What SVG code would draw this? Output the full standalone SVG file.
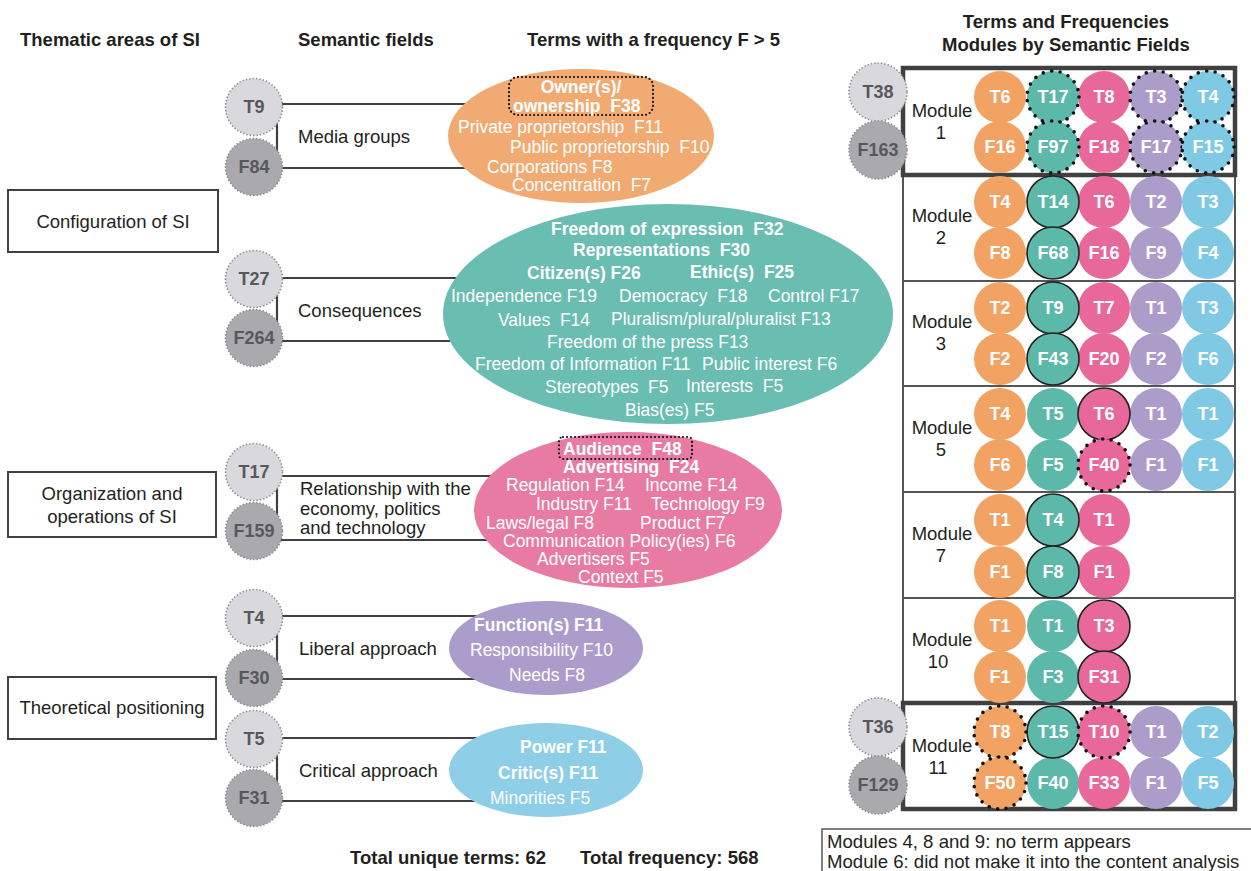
<svg xmlns="http://www.w3.org/2000/svg" width="1251" height="871" viewBox="0 0 1251 871">
<style>
text{font-family:"Liberation Sans",Arial,sans-serif;}
.hdr{font-size:18.5px;font-weight:bold;fill:#231f20;}
.lbl{font-size:18.5px;fill:#231f20;}
.box{fill:#fff;stroke:#404040;stroke-width:2;}
.con{fill:none;stroke:#404040;stroke-width:2.2;}
.ct{fill:#d9d9dd;stroke:#8c8c90;stroke-width:1.6;stroke-dasharray:1.4 2;}
.cf{fill:#a9a9ae;stroke:#8c8c90;stroke-width:1.6;stroke-dasharray:1.4 2;}
.ctt{font-size:18px;font-weight:bold;fill:#58585c;text-anchor:middle;}
.et{font-size:17.5px;fill:#fff;}
.eb{font-size:17.5px;fill:#fff;font-weight:bold;}
.o{fill:#f2a263;}
.g{fill:#5cb8a8;}
.p{fill:#e8689a;}
.v{fill:#ab9cca;}
.b{fill:#7fc9e5;}
.sol{stroke:#222;stroke-width:1.6;}
.dot{stroke:#111;stroke-width:3.6;stroke-dasharray:0 8.6;stroke-linecap:round;}
.gt{font-size:18px;font-weight:bold;fill:#fff;text-anchor:middle;}
.mod{fill:none;stroke:#555;stroke-width:2;}
.modb{fill:none;stroke:#404040;stroke-width:4.5;}
.ml{font-size:18.5px;fill:#231f20;text-anchor:middle;}
.fn{font-size:18.6px;fill:#231f20;}
</style>

<g id="headers">
<text class="hdr" x="20" y="46">Thematic areas of SI</text>
<text class="hdr" x="298" y="46">Semantic fields</text>
<text class="hdr" x="527" y="46">Terms with a frequency F &gt; 5</text>
<text class="hdr" x="1066" y="28" text-anchor="middle">Terms and Frequencies</text>
<text class="hdr" x="1066" y="51" text-anchor="middle">Modules by Semantic Fields</text>
</g>

<g id="connectors">
<path class="con" d="M283,104 H277 V168 H283 M283,104 H500 M283,168 H500"/>
<path class="con" d="M283,278 H277 V341 H283 M283,278 H500 M283,341 H500"/>
<path class="con" d="M283,476 H277 V540 H283 M283,476 H520 M283,540 H520"/>
<path class="con" d="M283,616 H277 V679 H283 M283,616 H500 M283,679 H500"/>
<path class="con" d="M283,738 H277 V801 H283 M283,738 H500 M283,801 H500"/>
</g>

<g id="area-configuration">
<rect class="box" x="8" y="190" width="210" height="62"/>
<text class="lbl" x="113" y="228" text-anchor="middle">Configuration of SI</text>
</g>
<g id="area-organization">
<rect class="box" x="8" y="472" width="208" height="65"/>
<text class="lbl" x="112" y="500" text-anchor="middle">Organization and</text>
<text class="lbl" x="112" y="523" text-anchor="middle">operations of SI</text>
</g>
<g id="area-theoretical">
<rect class="box" x="8" y="677" width="208" height="62"/>
<text class="lbl" x="112" y="714" text-anchor="middle">Theoretical positioning</text>
</g>

<g id="field-media">
<circle class="ct" cx="254" cy="107" r="28.5"/>
<text class="ctt" x="254" y="113">T9</text>
<circle class="cf" cx="254" cy="167" r="28.5"/>
<text class="ctt" x="254" y="173">F84</text>
<text class="lbl" x="298" y="143">Media groups</text>
</g>
<g id="field-consequences">
<circle class="ct" cx="254" cy="279" r="28.5"/>
<text class="ctt" x="254" y="285">T27</text>
<circle class="cf" cx="254" cy="338" r="28.5"/>
<text class="ctt" x="254" y="344">F264</text>
<text class="lbl" x="298" y="317">Consequences</text>
</g>
<g id="field-relationship">
<circle class="ct" cx="254" cy="472" r="28.5"/>
<text class="ctt" x="254" y="478">T17</text>
<circle class="cf" cx="254" cy="531" r="28.5"/>
<text class="ctt" x="254" y="537">F159</text>
<text class="lbl" x="300" y="495">Relationship with the</text>
<text class="lbl" x="300" y="515">economy, politics</text>
<text class="lbl" x="300" y="534">and technology</text>
</g>
<g id="field-liberal">
<circle class="ct" cx="254" cy="618" r="28.5"/>
<text class="ctt" x="254" y="624">T4</text>
<circle class="cf" cx="254" cy="678" r="28.5"/>
<text class="ctt" x="254" y="684">F30</text>
<text class="lbl" x="299" y="655">Liberal approach</text>
</g>
<g id="field-critical">
<circle class="ct" cx="254" cy="739" r="28.5"/>
<text class="ctt" x="254" y="745">T5</text>
<circle class="cf" cx="254" cy="798" r="28.5"/>
<text class="ctt" x="254" y="804">F31</text>
<text class="lbl" x="299" y="777">Critical approach</text>
</g>

<g id="terms-media">
<ellipse cx="581" cy="136" rx="133" ry="67" fill="#f2aa73"/>
<rect x="509" y="77" width="144" height="38" rx="9" fill="none" stroke="#111" stroke-width="2.2" stroke-dasharray="0 4" stroke-linecap="round"/>
<text class="eb" x="581" y="93" text-anchor="middle">Owner(s)/</text>
<text class="eb" x="513" y="112">ownership&#160; F38</text>
<text class="et" x="458" y="133">Private proprietorship&#160; F11</text>
<text class="et" x="510" y="153">Public proprietorship&#160; F10</text>
<text class="et" x="487" y="173">Corporations F8</text>
<text class="et" x="512" y="191">Concentration&#160; F7</text>
</g>

<g id="terms-consequences">
<ellipse cx="668" cy="314" rx="225" ry="110" fill="#6abdb1"/>
<text class="eb" x="551" y="235">Freedom of expression&#160; F32</text>
<text class="eb" x="573" y="256">Representations&#160; F30</text>
<text class="eb" x="527" y="279">Citizen(s) F26</text>
<text class="eb" x="690" y="278">Ethic(s)&#160; F25</text>
<text class="et" x="451" y="302">Independence F19</text>
<text class="et" x="619" y="302">Democracy&#160; F18</text>
<text class="et" x="768" y="302">Control F17</text>
<text class="et" x="498" y="326">Values&#160; F14</text>
<text class="et" x="611" y="325">Pluralism/plural/pluralist F13</text>
<text class="et" x="547" y="348">Freedom of the press F13</text>
<text class="et" x="475" y="370">Freedom of Information F11</text>
<text class="et" x="702" y="370">Public interest F6</text>
<text class="et" x="545" y="393">Stereotypes&#160; F5</text>
<text class="et" x="686" y="392">Interests&#160; F5</text>
<text class="et" x="625" y="416">Bias(es) F5</text>
</g>

<g id="terms-relationship">
<ellipse cx="628" cy="510" rx="154" ry="78" fill="#e87ba1"/>
<rect x="559" y="437" width="133" height="22" rx="4" fill="none" stroke="#111" stroke-width="2.2" stroke-dasharray="0 4" stroke-linecap="round"/>
<text class="eb" x="563" y="455">Audience&#160; F48</text>
<text class="eb" x="563" y="473">Advertising&#160; F24</text>
<text class="et" x="506" y="491">Regulation F14</text>
<text class="et" x="645" y="491">Income F14</text>
<text class="et" x="536" y="510">Industry F11</text>
<text class="et" x="651" y="510">Technology F9</text>
<text class="et" x="486" y="529">Laws/legal F8</text>
<text class="et" x="640" y="529">Product F7</text>
<text class="et" x="503" y="547">Communication Policy(ies) F6</text>
<text class="et" x="537" y="565">Advertisers F5</text>
<text class="et" x="578" y="583">Context F5</text>
</g>

<g id="terms-liberal">
<ellipse cx="546" cy="648" rx="97" ry="47" fill="#ab9ccb"/>
<text class="eb" x="474" y="631">Function(s) F11</text>
<text class="et" x="470" y="656">Responsibility F10</text>
<text class="et" x="509" y="681">Needs F8</text>
</g>

<g id="terms-critical">
<ellipse cx="546" cy="770" rx="97" ry="47" fill="#8ecfe7"/>
<text class="eb" x="520" y="753">Power F11</text>
<text class="eb" x="498" y="779">Critic(s) F11</text>
<text class="et" x="490" y="804">Minorities F5</text>
</g>

<g id="totals">
<text class="hdr" x="350" y="864">Total unique terms: 62</text>
<text class="hdr" x="580" y="864">Total frequency: 568</text>
</g>

<g id="module-boxes">
<rect class="mod" x="903" y="175" width="332" height="106"/>
<rect class="mod" x="903" y="281" width="332" height="105"/>
<rect class="mod" x="903" y="386" width="332" height="106"/>
<rect class="mod" x="903" y="492" width="332" height="106"/>
<rect class="mod" x="903" y="598" width="332" height="105"/>
<rect class="modb" x="903" y="68" width="332" height="107"/>
<rect class="modb" x="903" y="703" width="332" height="106"/>
</g>

<g id="module-1">
<text class="ml" x="942" y="117">Module</text>
<text class="ml" x="941" y="139">1</text>
<circle class="o" cx="1000" cy="97" r="26"/><circle class="o" cx="1000" cy="147" r="26"/>
<circle class="p" cx="1104" cy="97" r="26"/><circle class="p" cx="1104" cy="147" r="26"/>
<circle class="g dot" cx="1053" cy="97" r="26"/><circle class="g dot" cx="1053" cy="147" r="26"/>
<circle class="v dot" cx="1156" cy="97" r="26"/><circle class="v dot" cx="1156" cy="147" r="26"/>
<circle class="b dot" cx="1208" cy="97" r="26"/><circle class="b dot" cx="1208" cy="147" r="26"/>
<text class="gt" x="1000" y="103">T6</text><text class="gt" x="1000" y="153">F16</text>
<text class="gt" x="1053" y="103">T17</text><text class="gt" x="1053" y="153">F97</text>
<text class="gt" x="1104" y="103">T8</text><text class="gt" x="1104" y="153">F18</text>
<text class="gt" x="1156" y="103">T3</text><text class="gt" x="1156" y="153">F17</text>
<text class="gt" x="1208" y="103">T4</text><text class="gt" x="1208" y="153">F15</text>
<circle class="ct" cx="878" cy="92" r="29"/>
<text class="ctt" x="878" y="98">T38</text>
<circle class="cf" cx="878" cy="150" r="29"/>
<text class="ctt" x="878" y="156">F163</text>
</g>

<g id="module-2">
<text class="ml" x="942" y="222">Module</text>
<text class="ml" x="941" y="244">2</text>
<circle class="o" cx="1000" cy="202" r="26"/><circle class="o" cx="1000" cy="253" r="26"/>
<circle class="p" cx="1104" cy="202" r="26"/><circle class="p" cx="1104" cy="253" r="26"/>
<circle class="v" cx="1156" cy="202" r="26"/><circle class="v" cx="1156" cy="253" r="26"/>
<circle class="b" cx="1208" cy="202" r="26"/><circle class="b" cx="1208" cy="253" r="26"/>
<circle class="g sol" cx="1053" cy="202" r="26"/><circle class="g sol" cx="1053" cy="253" r="26"/>
<text class="gt" x="1000" y="208">T4</text><text class="gt" x="1000" y="259">F8</text>
<text class="gt" x="1053" y="208">T14</text><text class="gt" x="1053" y="259">F68</text>
<text class="gt" x="1104" y="208">T6</text><text class="gt" x="1104" y="259">F16</text>
<text class="gt" x="1156" y="208">T2</text><text class="gt" x="1156" y="259">F9</text>
<text class="gt" x="1208" y="208">T3</text><text class="gt" x="1208" y="259">F4</text>
</g>

<g id="module-3">
<text class="ml" x="942" y="328">Module</text>
<text class="ml" x="941" y="350">3</text>
<circle class="o" cx="1000" cy="308" r="26"/><circle class="o" cx="1000" cy="359" r="26"/>
<circle class="p" cx="1104" cy="308" r="26"/><circle class="p" cx="1104" cy="359" r="26"/>
<circle class="v" cx="1156" cy="308" r="26"/><circle class="v" cx="1156" cy="359" r="26"/>
<circle class="b" cx="1208" cy="308" r="26"/><circle class="b" cx="1208" cy="359" r="26"/>
<circle class="g sol" cx="1053" cy="308" r="26"/><circle class="g sol" cx="1053" cy="359" r="26"/>
<text class="gt" x="1000" y="314">T2</text><text class="gt" x="1000" y="365">F2</text>
<text class="gt" x="1053" y="314">T9</text><text class="gt" x="1053" y="365">F43</text>
<text class="gt" x="1104" y="314">T7</text><text class="gt" x="1104" y="365">F20</text>
<text class="gt" x="1156" y="314">T1</text><text class="gt" x="1156" y="365">F2</text>
<text class="gt" x="1208" y="314">T3</text><text class="gt" x="1208" y="365">F6</text>
</g>

<g id="module-5">
<text class="ml" x="942" y="434">Module</text>
<text class="ml" x="941" y="456">5</text>
<circle class="o" cx="1000" cy="414" r="26"/><circle class="o" cx="1000" cy="465" r="26"/>
<circle class="g" cx="1053" cy="414" r="26"/><circle class="g" cx="1053" cy="465" r="26"/>
<circle class="v" cx="1156" cy="414" r="26"/><circle class="v" cx="1156" cy="465" r="26"/>
<circle class="b" cx="1208" cy="414" r="26"/><circle class="b" cx="1208" cy="465" r="26"/>
<circle class="p sol" cx="1104" cy="414" r="26"/>
<circle class="p dot" cx="1104" cy="465" r="26"/>
<text class="gt" x="1000" y="420">T4</text><text class="gt" x="1000" y="471">F6</text>
<text class="gt" x="1053" y="420">T5</text><text class="gt" x="1053" y="471">F5</text>
<text class="gt" x="1104" y="420">T6</text><text class="gt" x="1104" y="471">F40</text>
<text class="gt" x="1156" y="420">T1</text><text class="gt" x="1156" y="471">F1</text>
<text class="gt" x="1208" y="420">T1</text><text class="gt" x="1208" y="471">F1</text>
</g>

<g id="module-7">
<text class="ml" x="942" y="540">Module</text>
<text class="ml" x="941" y="562">7</text>
<circle class="o" cx="1000" cy="520" r="26"/><circle class="o" cx="1000" cy="572" r="26"/>
<circle class="p" cx="1104" cy="520" r="26"/><circle class="p" cx="1104" cy="572" r="26"/>
<circle class="g sol" cx="1053" cy="520" r="26"/><circle class="g sol" cx="1053" cy="572" r="26"/>
<text class="gt" x="1000" y="526">T1</text><text class="gt" x="1000" y="578">F1</text>
<text class="gt" x="1053" y="526">T4</text><text class="gt" x="1053" y="578">F8</text>
<text class="gt" x="1104" y="526">T1</text><text class="gt" x="1104" y="578">F1</text>
</g>

<g id="module-10">
<text class="ml" x="942" y="646">Module</text>
<text class="ml" x="938" y="668">10</text>
<circle class="o" cx="1000" cy="626" r="26"/><circle class="o" cx="1000" cy="677" r="26"/>
<circle class="g" cx="1053" cy="626" r="26"/><circle class="g" cx="1053" cy="677" r="26"/>
<circle class="p sol" cx="1104" cy="626" r="26"/><circle class="p sol" cx="1104" cy="677" r="26"/>
<text class="gt" x="1000" y="632">T1</text><text class="gt" x="1000" y="683">F1</text>
<text class="gt" x="1053" y="632">T1</text><text class="gt" x="1053" y="683">F3</text>
<text class="gt" x="1104" y="632">T3</text><text class="gt" x="1104" y="683">F31</text>
</g>

<g id="module-11">
<text class="ml" x="942" y="752">Module</text>
<text class="ml" x="938" y="774">11</text>
<circle class="g" cx="1053" cy="783" r="26"/>
<circle class="p" cx="1104" cy="783" r="26"/>
<circle class="v" cx="1156" cy="732" r="26"/><circle class="v" cx="1156" cy="783" r="26"/>
<circle class="b" cx="1208" cy="732" r="26"/><circle class="b" cx="1208" cy="783" r="26"/>
<circle class="g sol" cx="1053" cy="732" r="26"/>
<circle class="o dot" cx="1000" cy="732" r="26"/><circle class="o dot" cx="1000" cy="783" r="26"/>
<circle class="p dot" cx="1104" cy="732" r="26"/>
<text class="gt" x="1000" y="738">T8</text><text class="gt" x="1000" y="789">F50</text>
<text class="gt" x="1053" y="738">T15</text><text class="gt" x="1053" y="789">F40</text>
<text class="gt" x="1104" y="738">T10</text><text class="gt" x="1104" y="789">F33</text>
<text class="gt" x="1156" y="738">T1</text><text class="gt" x="1156" y="789">F1</text>
<text class="gt" x="1208" y="738">T2</text><text class="gt" x="1208" y="789">F5</text>
<circle class="ct" cx="878" cy="727" r="29"/>
<text class="ctt" x="878" y="733">T36</text>
<circle class="cf" cx="878" cy="785" r="29"/>
<text class="ctt" x="878" y="791">F129</text>
</g>

<g id="footnote">
<path d="M1251,829 H822 V871" fill="none" stroke="#555" stroke-width="1.5"/>
<text class="fn" x="827" y="848">Modules 4, 8 and 9: no term appears</text>
<text class="fn" x="827" y="868">Module 6: did not make it into the content analysis</text>
</g>
</svg>
